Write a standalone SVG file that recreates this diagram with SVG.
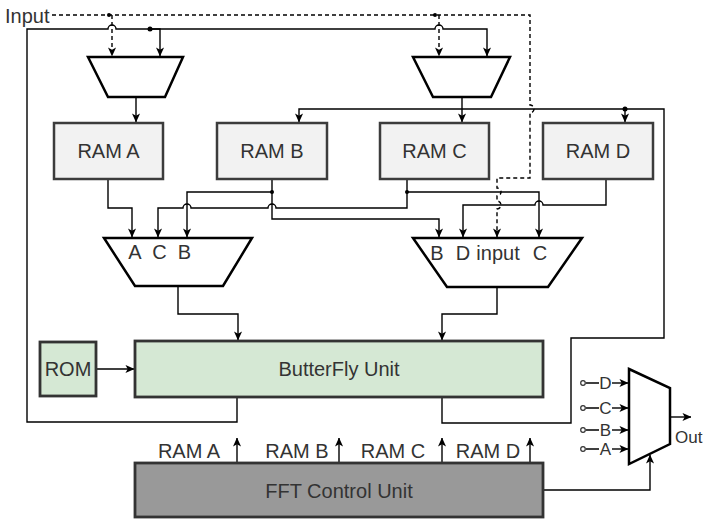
<svg xmlns="http://www.w3.org/2000/svg" width="706" height="519" viewBox="0 0 706 519">
  <defs>
    <marker id="arrow" viewBox="0 0 10 10" refX="9.5" refY="5" markerWidth="9" markerHeight="9" markerUnits="userSpaceOnUse" orient="auto">
      <path d="M0,0.5 L10,5 L0,9.5 L2.5,5 z" fill="#000"/>
    </marker>
  </defs>
  <style>
    text { font-family: "Liberation Sans", Arial, sans-serif; font-size: 20px; fill: #333; }
    .c { text-anchor: middle; }
    .pinlbl { font-size: 17px; }
    .ram { fill: #f2f2f2; stroke: #3c3c3c; stroke-width: 2.5; }
    .green { fill: #d5e8d4; stroke: #333; stroke-width: 2.8; }
    .ctrl { fill: #999; stroke: #333; stroke-width: 2.8; }
    .mux { fill: #fff; stroke: #000; stroke-width: 2.5; }
    .wire { fill: none; stroke: #000; stroke-width: 1.4; }
    .dash { stroke-dasharray: 4 3; }
    .arr { marker-end: url(#arrow); }
    .dot { fill: #000; }
    .pin { fill: #fff; stroke: #333; stroke-width: 1.2; }
  </style>
  <rect width="706" height="519" fill="#fff"/>

  <!-- connectors -->
  <g id="connectors">
    <!-- external input (dashed) -->
    <path class="wire dash arr" d="M52 15 H530 V105 A4 4 0 0 1 530 113 V178 H497 V188 A4 4 0 0 1 497 196 V201 A4 4 0 0 1 497 209 V237"/>
    <path class="wire dash arr" d="M112 15 V56"/>
    <path class="wire dash arr" d="M439 15 V56"/>
    <circle class="dot" cx="109" cy="15" r="2"/>
    <circle class="dot" cx="435" cy="15" r="2"/>

    <!-- butterfly left output loop to the input muxes -->
    <path class="wire arr" d="M237 397 V422 H27 V29 H108 A4 4 0 0 1 116 29 H435 A4 4 0 0 1 443 29 H487 V56"/>
    <path class="wire arr" d="M150 29 H160 V56"/>
    <circle class="dot" cx="150" cy="29" r="2.5"/>

    <!-- input muxes to RAM A / RAM C -->
    <path class="wire arr" d="M136 97 V122"/>
    <path class="wire arr" d="M462 97 V122"/>

    <!-- butterfly right output loop to RAM B / RAM D -->
    <path class="wire arr" d="M442 397 V423 H571 V338 H664 V109 H299 V122"/>
    <path class="wire arr" d="M625 109 V122"/>
    <circle class="dot" cx="625" cy="109" r="2.5"/>

    <!-- RAM outputs to the selection muxes -->
    <path class="wire arr" d="M108 179 V208 H132 V237"/>
    <path class="wire arr" d="M272 192 H187 V237"/>
    <circle class="dot" cx="272" cy="192" r="2"/>
    <path class="wire arr" d="M272 179 V219 H439 V237"/>
    <path class="wire arr" d="M407 192 H539 V237"/>
    <circle class="dot" cx="407" cy="192" r="2"/>
    <path class="wire arr" d="M407 179 V208 H276 A4 4 0 0 0 268 208 H191 A4 4 0 0 0 183 208 H158 V237"/>
    <path class="wire arr" d="M606 179 V205 H543 A4 4 0 0 0 535 205 H463 V237"/>

    <!-- selection muxes to butterfly -->
    <path class="wire arr" d="M178 286 V314 H238 V340"/>
    <path class="wire arr" d="M497 287 V314 H442 V340"/>

    <!-- ROM to butterfly -->
    <path class="wire arr" d="M96 369 H134"/>

    <!-- control unit outputs -->
    <path class="wire arr" d="M237 463 V438"/>
    <path class="wire arr" d="M339 463 V438"/>
    <path class="wire arr" d="M442 463 V438"/>
    <path class="wire arr" d="M530 463 V438"/>
    <path class="wire arr" d="M543 490 H650 V455"/>

    <!-- output mux -->
    <path class="wire arr" d="M670 417 H691"/>
    <path class="wire" d="M586 383 H599 M586 408 H599 M586 430 H599 M586 449 H599"/>
    <path class="wire arr" d="M612 383 H628"/>
    <path class="wire arr" d="M612 408 H628"/>
    <path class="wire arr" d="M612 430 H628"/>
    <path class="wire arr" d="M612 449 H628"/>
    <circle class="pin" cx="583" cy="383" r="2.3"/>
    <circle class="pin" cx="583" cy="408" r="2.3"/>
    <circle class="pin" cx="583" cy="430" r="2.3"/>
    <circle class="pin" cx="583" cy="449" r="2.3"/>
  </g>

  <g id="input-label">
    <text x="5" y="23">Input</text>
  </g>

  <g id="mux-in-a">
    <polygon class="mux" points="88,57 183,57 165,97 108,97"/>
  </g>
  <g id="mux-in-c">
    <polygon class="mux" points="413,57 510,57 491,97 433,97"/>
  </g>

  <g id="ram-a">
    <rect class="ram" x="54" y="123" width="109" height="56"/>
    <text class="c" x="108.5" y="158">RAM A</text>
  </g>
  <g id="ram-b">
    <rect class="ram" x="217" y="123" width="110" height="56"/>
    <text class="c" x="272" y="158">RAM B</text>
  </g>
  <g id="ram-c">
    <rect class="ram" x="380" y="123" width="109" height="56"/>
    <text class="c" x="434.5" y="158">RAM C</text>
  </g>
  <g id="ram-d">
    <rect class="ram" x="543" y="123" width="110" height="56"/>
    <text class="c" x="598" y="158">RAM D</text>
  </g>

  <g id="mux-left">
    <polygon class="mux" points="104,238 252,238 223,286 135,286"/>
    <text class="c" x="135" y="259">A</text>
    <text class="c" x="159.5" y="259">C</text>
    <text class="c" x="184.5" y="259">B</text>
  </g>
  <g id="mux-right">
    <polygon class="mux" points="413,238 582,238 548,287 447,287"/>
    <text class="c" x="437" y="260">B</text>
    <text class="c" x="463" y="260">D</text>
    <text class="c" x="498" y="260">input</text>
    <text class="c" x="540" y="260">C</text>
  </g>

  <g id="rom">
    <rect class="green" x="40" y="342" width="56" height="54"/>
    <text class="c" x="68" y="376">ROM</text>
  </g>
  <g id="butterfly">
    <rect class="green" x="135" y="341" width="408" height="56"/>
    <text class="c" x="339" y="376">ButterFly Unit</text>
  </g>

  <g id="fft-control">
    <rect class="ctrl" x="135" y="463" width="408" height="54"/>
    <text class="c" x="339" y="498">FFT Control Unit</text>
    <text class="c" x="189" y="458">RAM A</text>
    <text class="c" x="297" y="458">RAM B</text>
    <text class="c" x="393" y="458">RAM C</text>
    <text class="c" x="488" y="458">RAM D</text>
  </g>

  <g id="out-mux">
    <polygon class="mux" points="629,369 670,388 670,444 629,464"/>
    <text class="c pinlbl" x="605.5" y="389">D</text>
    <text class="c pinlbl" x="605.5" y="414">C</text>
    <text class="c pinlbl" x="605.5" y="436">B</text>
    <text class="c pinlbl" x="605.5" y="455">A</text>
    <text class="pinlbl" x="675" y="443">Out</text>
  </g>
</svg>
